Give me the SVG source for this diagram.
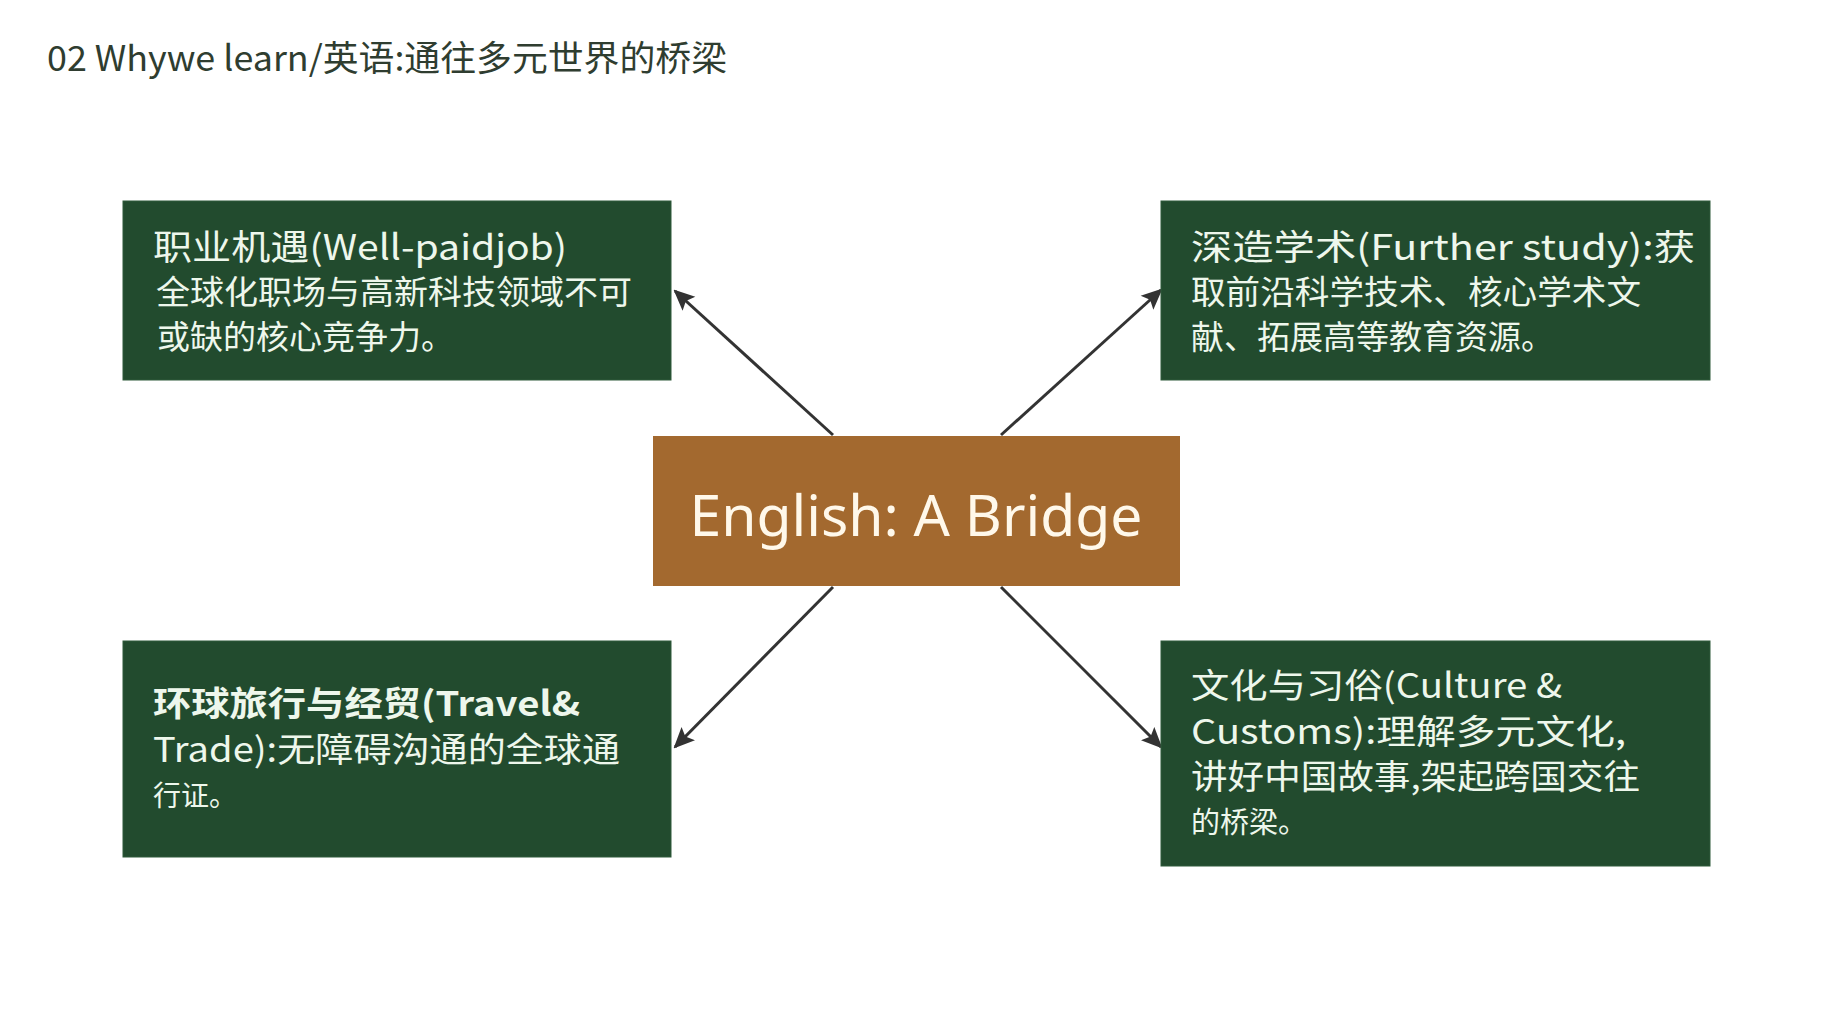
<svg xmlns="http://www.w3.org/2000/svg" width="1834" height="1024" viewBox="0 0 1834 1024">
<defs>
<style>
.box{fill:#224b2e;stroke:#2f5a3a;stroke-width:1}
.ctr{fill:#a3692f}
.t{font-family:"Noto Sans CJK SC","Noto Sans",sans-serif;fill:#eef7ec}
.title{font-family:"Noto Sans CJK SC","Noto Sans",sans-serif;fill:#2f3d30;font-size:35px}
.conn{stroke:#333333;stroke-width:3;fill:none;marker-end:url(#ah)}
</style>
<marker id="ah" viewBox="0 0 10 10" refX="9" refY="5" markerWidth="7" markerHeight="7" orient="auto" markerUnits="strokeWidth">
<path d="M0,0.5 L10,5 L0,9.5 L2,5 Z" fill="#333333"/>
</marker>
</defs>
<rect width="1834" height="1024" fill="#ffffff"/>
<text class="title" x="47" y="71" textLength="680" lengthAdjust="spacingAndGlyphs">02 Whywe learn/英语:通往多元世界的桥梁</text>
<g id="connectors">
<line class="conn" x1="833" y1="435" x2="675" y2="291"/>
<line class="conn" x1="1001" y1="435" x2="1161" y2="290"/>
<line class="conn" x1="833" y1="587" x2="675" y2="747"/>
<line class="conn" x1="1001" y1="587" x2="1161" y2="747"/>
</g>
<g id="node-center">
<rect class="ctr" x="653" y="436" width="527" height="150"/>
<text x="916" y="536" text-anchor="middle" font-family="'Noto Sans','Open Sans',sans-serif" font-size="56" fill="#fff8ea" textLength="453" lengthAdjust="spacingAndGlyphs">English: A Bridge</text>
</g>
<g id="node-job">
<rect class="box" x="123" y="201" width="548" height="179"/>
<text class="t" x="153" y="260" font-size="35" textLength="414" lengthAdjust="spacingAndGlyphs">职业机遇(Well-paidjob)</text>
<text class="t" x="156" y="304" font-size="33" textLength="476" lengthAdjust="spacingAndGlyphs">全球化职场与高新科技领域不可</text>
<text class="t" x="157" y="349" font-size="33">或缺的核心竞争力。</text>
</g>
<g id="node-study">
<rect class="box" x="1161" y="201" width="549" height="179"/>
<text class="t" x="1191" y="260" font-size="35" textLength="504" lengthAdjust="spacingAndGlyphs">深造学术(Further study):获</text>
<text class="t" x="1191" y="304" font-size="33" textLength="450" lengthAdjust="spacingAndGlyphs">取前沿科学技术、核心学术文</text>
<text class="t" x="1191" y="349" font-size="33">献、拓展高等教育资源。</text>
</g>
<g id="node-travel">
<rect class="box" x="123" y="641" width="548" height="216"/>
<text class="t" x="153" y="716" font-size="34" font-weight="bold" textLength="427" lengthAdjust="spacingAndGlyphs">环球旅行与经贸(Travel&amp;</text>
<text class="t" x="153" y="762" font-size="34" textLength="467" lengthAdjust="spacingAndGlyphs">Trade):无障碍沟通的全球通</text>
<text class="t" x="153" y="806" font-size="28">行证。</text>
</g>
<g id="node-culture">
<rect class="box" x="1161" y="641" width="549" height="225"/>
<text class="t" x="1191" y="698" font-size="34" textLength="371" lengthAdjust="spacingAndGlyphs">文化与习俗(Culture &amp;</text>
<text class="t" x="1191" y="744" font-size="34" textLength="435" lengthAdjust="spacingAndGlyphs">Customs):理解多元文化,</text>
<text class="t" x="1191" y="789" font-size="34" textLength="449" lengthAdjust="spacingAndGlyphs">讲好中国故事,架起跨国交往</text>
<text class="t" x="1191" y="833" font-size="29">的桥梁。</text>
</g>
</svg>
